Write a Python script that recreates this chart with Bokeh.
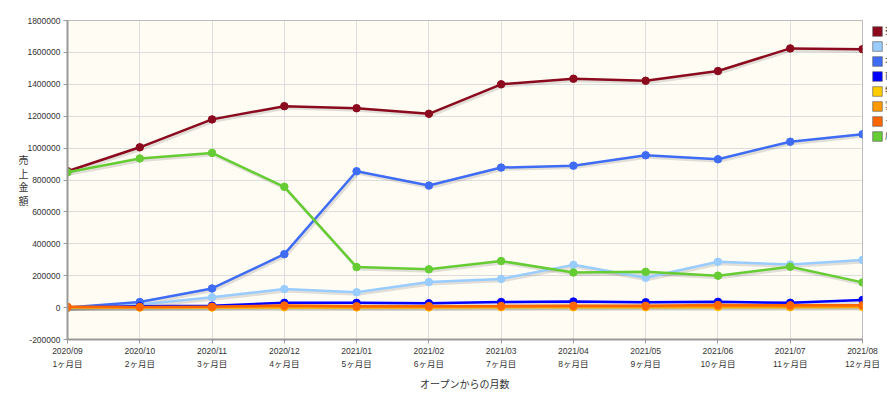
from bokeh.plotting import figure
from bokeh.layouts import row
from bokeh.models import (ColumnDataSource, FixedTicker, Legend, LegendItem, Range1d)
from bokeh.embed import file_html
from bokeh.resources import INLINE

# ---- data ----
months = ["2020/09", "2020/10", "2020/11", "2020/12", "2021/01", "2021/02",
          "2021/03", "2021/04", "2021/05", "2021/06", "2021/07", "2021/08"]
month_no = ["1ヶ月目", "2ヶ月目", "3ヶ月目", "4ヶ月目", "5ヶ月目", "6ヶ月目",
            "7ヶ月目", "8ヶ月目", "9ヶ月目", "10ヶ月目", "11ヶ月目", "12ヶ月目"]

series_names = ["売上合計", "ランチ", "本店", "商品", "物販", "宴会", "その他", "店内飲食"]
total      = [855000, 1005000, 1180000, 1263000, 1250000, 1215000, 1400000, 1435000, 1422000, 1483000, 1625000, 1620000]
light_blue = [0, 20000, 65000, 116000, 96000, 160000, 180000, 268000, 187000, 287000, 270000, 299000]
blue       = [0, 35000, 120000, 335000, 855000, 765000, 878000, 890000, 955000, 930000, 1040000, 1087000]
dark_blue  = [0, 8000, 12000, 30000, 30000, 27000, 35000, 38000, 33000, 36000, 30000, 48000]
yellow     = [0, 0, 0, 2000, 1000, 1000, 2000, 2000, 2000, 3000, 2000, 3000]
orange     = [2000, 2000, 3000, 5000, 4000, 4000, 5000, 5000, 6000, 8000, 6000, 7000]
dark_orange = [5000, 3000, 5000, 13000, 8000, 9000, 10000, 12000, 11000, 16000, 14000, 15000]
green      = [848000, 935000, 970000, 757000, 254000, 240000, 292000, 220000, 224000, 200000, 256000, 158000]

series = [total, light_blue, blue, dark_blue, yellow, orange, dark_orange, green]
colors = ["#8B0A1E", "#99CCFF", "#3F6CF5", "#0000FF", "#FFCC00", "#FF9900", "#FF6600", "#66CC33"]

y_ticks = list(range(-200000, 1800001, 200000))

x = list(range(len(months)))

FONT = "Liberation Sans, Noto Sans CJK JP"
JFONT = "Noto Sans CJK JP"

p = figure(width=887, height=393, output_backend="svg", toolbar_location=None,
           x_range=Range1d(0, len(months) - 1), y_range=Range1d(y_ticks[0], y_ticks[-1]),
           min_border_left=67, min_border_top=20, min_border_right=25, min_border_bottom=45)

p.border_fill_color = "white"
p.background_fill_color = "#FFFCF4"
p.outline_line_color = "#BBBBBB"
p.outline_line_width = 1

# axes
p.xaxis.ticker = FixedTicker(ticks=x)
p.xaxis.major_label_overrides = {i: f"{months[i]}\n{month_no[i]}" for i in x}
p.yaxis.ticker = FixedTicker(ticks=y_ticks)
p.yaxis.major_label_overrides = {v: str(v) for v in y_ticks}

for ax in (p.xaxis[0], p.yaxis[0]):
    ax.axis_line_color = "#999999"
    ax.axis_line_width = 2
    ax.major_tick_line_color = "#999999"
    ax.major_tick_out = 4
    ax.major_tick_in = 0
    ax.minor_tick_line_color = None
    ax.major_label_text_font = FONT
    ax.major_label_text_font_size = "8.5px"
    ax.major_label_text_color = "#333333"
    ax.major_label_text_line_height = 1.3
    ax.axis_label_text_font = JFONT
    ax.axis_label_text_font_size = "10px"
    ax.axis_label_text_color = "#333333"
    ax.axis_label_text_font_style = "normal"

p.xaxis.axis_label = "オープンからの月数"
p.xaxis.major_label_standoff = 2
p.xaxis.axis_label_standoff = 4
p.yaxis.axis_label = "売\n上\n金\n額"
p.yaxis.axis_label_orientation = "horizontal"
p.yaxis.axis_label_text_line_height = 0.9
p.yaxis.axis_label_standoff = -4
p.yaxis.major_label_standoff = 3

p.xgrid.ticker = FixedTicker(ticks=x)
p.ygrid.ticker = FixedTicker(ticks=y_ticks)
p.grid.grid_line_color = "#DDDDDD"
p.grid.grid_line_width = 1

# shadows (offset a couple of pixels in screen terms)
dx = 1.5 * (len(months) - 1) / 795
dy = 2 * (y_ticks[-1] - y_ticks[0]) / 328
for vals in series:
    p.line([xi + dx for xi in x], [v - dy for v in vals], line_color="#777777",
           line_alpha=0.22, line_width=3)

for vals, col in zip(series, colors):
    src = ColumnDataSource(dict(x=x, y=vals))
    p.line("x", "y", source=src, line_color=col, line_width=2.5)
    p.scatter("x", "y", source=src, size=7.5, fill_color=col, line_color=col)

# ---- legend, in a narrow transparent strip overlapping the right edge ----
lg = figure(width=18, height=393, output_backend="svg", toolbar_location=None,
            x_range=Range1d(0, 1), y_range=Range1d(0, 1),
            min_border_left=0, min_border_right=0, min_border_top=0, min_border_bottom=0)
lg.axis.visible = False
lg.grid.visible = False
lg.outline_line_color = None
lg.background_fill_alpha = 0
lg.border_fill_alpha = 0
lg.margin = (0, 0, 0, -18)

items = []
for name, vals, col in zip(series_names, series, colors):
    src = ColumnDataSource(dict(x=x, y=vals))
    # zero-area swatch renderer (outside the strip's range): only its legend square shows
    sw = lg.quad(left="x", right="x", top="y", bottom="y", source=src,
                 fill_color=col, line_color="#555555", line_width=0.6)
    items.append(LegendItem(label=name, renderers=[sw]))

legend = Legend(items=items, location=(2, 197), orientation="vertical",
                glyph_width=12, glyph_height=12, spacing=2, padding=2, margin=0,
                label_text_font=JFONT, label_text_font_size="9px", label_text_color="#333333",
                background_fill_alpha=0, border_line_color=None, label_standoff=2)
lg.add_layout(legend, "center")

layout = row(p, lg, spacing=0)
open("out.html", "w").write(file_html(layout, INLINE))
